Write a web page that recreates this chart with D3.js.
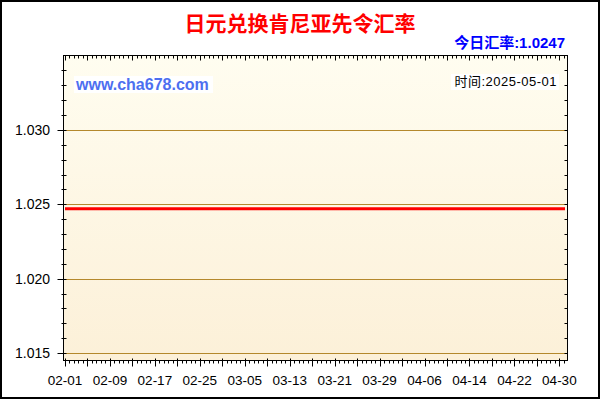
<!DOCTYPE html>
<html>
<head>
<meta charset="utf-8">
<script src="https://cdn.jsdelivr.net/npm/d3@7"></script>
<style>
  body { margin: 0; background: #fff; }
  svg { display: block; }
</style>
</head>
<body>
<div id="chart"></div>
<script>
// Chart values
const dates = ["2025-02-01", "2025-02-09", "2025-02-17", "2025-02-25", "2025-03-05", "2025-03-13",
               "2025-03-21", "2025-03-29", "2025-04-06", "2025-04-14", "2025-04-22", "2025-04-30", "2025-05-01"];
const rates = [1.0247, 1.0247, 1.0247, 1.0247, 1.0247, 1.0247,
               1.0247, 1.0247, 1.0247, 1.0247, 1.0247, 1.0247, 1.0247];
const xTickLabels = ["02-01", "02-09", "02-17", "02-25", "03-05", "03-13",
                     "03-21", "03-29", "04-06", "04-14", "04-22", "04-30"];
const yTickLabels = ["1.015", "1.020", "1.025", "1.030"];
const titleText = "日元兑换肯尼亚先令汇率";
const rateText = "今日汇率:1.0247";
const siteText = "www.cha678.com";
const timeText = "时间:2025-05-01";

const parseDate = d3.timeParse("%Y-%m-%d");
const data = dates.map((d, i) => ({date: parseDate(d), rate: rates[i]}));

// Plot frame
const frame = {left: 63.5, right: 567.5, top: 55.5, bottom: 360.5};
const font = "'Liberation Sans', Arial, 'Noto Sans CJK SC', sans-serif";

const svg = d3.select("#chart")
    .append("svg")
    .attr("width", 600)
    .attr("height", 400);

// Background gradient of the plot area
const grad = svg.append("defs").append("linearGradient")
    .attr("id", "bg")
    .attr("x1", 0).attr("y1", 0).attr("x2", 0).attr("y2", 1);
grad.append("stop").attr("offset", "0%").attr("stop-color", "#fffdf0");
grad.append("stop").attr("offset", "100%").attr("stop-color", "#fcf0d8");

svg.append("rect")
    .attr("x", frame.left).attr("y", frame.top)
    .attr("width", frame.right - frame.left)
    .attr("height", frame.bottom - frame.top)
    .attr("fill", "url(#bg)");

// Scales
const x = d3.scaleTime()
    .domain([parseDate("2025-02-01"), parseDate("2025-05-01")])
    .range([65, 565]);
const y = d3.scaleLinear()
    .domain([1.0145, 1.035])
    .range([frame.bottom, frame.top]);

// Horizontal grid lines at labelled values
svg.append("g")
    .selectAll("line")
    .data(yTickLabels)
    .enter().append("line")
    .attr("x1", frame.left + 2)
    .attr("x2", frame.right)
    .attr("y1", d => Math.round(y(+d)) + 0.5)
    .attr("y2", d => Math.round(y(+d)) + 0.5)
    .attr("stroke", "#b4882c")
    .attr("stroke-width", 1);

// Red rate line
const line = d3.line()
    .x(d => x(d.date))
    .y(d => y(d.rate));

svg.append("path")
    .datum(data)
    .attr("d", line)
    .attr("fill", "none")
    .attr("stroke", "#ff0000")
    .attr("stroke-width", 3);

// Frame
svg.append("rect")
    .attr("x", frame.left).attr("y", frame.top)
    .attr("width", frame.right - frame.left)
    .attr("height", frame.bottom - frame.top)
    .attr("fill", "none")
    .attr("stroke", "#000")
    .attr("stroke-width", 1);

// X ticks: major every 4 days, 5 subdivisions each
const day0 = parseDate("2025-02-01");
const dayMs = 24 * 60 * 60 * 1000;
const minorDays = d3.range(0, 89.01, 0.8);
const majorDays = d3.range(0, 89, 4);
const ticksG = svg.append("g").attr("stroke", "#000").attr("stroke-width", 1);

function xAt(days) {
    return Math.round(x(new Date(day0.getTime() + days * dayMs))) + 0.5;
}

minorDays.forEach(d => {
    const px = xAt(d);
    ticksG.append("line").attr("x1", px).attr("x2", px)
        .attr("y1", frame.bottom).attr("y2", frame.bottom + 3);
    ticksG.append("line").attr("x1", px).attr("x2", px)
        .attr("y1", frame.top).attr("y2", frame.top + 3);
});
majorDays.forEach(d => {
    const px = xAt(d);
    ticksG.append("line").attr("x1", px).attr("x2", px)
        .attr("y1", frame.bottom - 2).attr("y2", frame.bottom + 6);
    ticksG.append("line").attr("x1", px).attr("x2", px)
        .attr("y1", frame.top).attr("y2", frame.top + 5);
});

// Y ticks every 0.001
const yMinor = d3.range(1015, 1035).map(v => v / 1000);
yMinor.forEach(v => {
    const py = Math.round(y(v)) + 0.5;
    ticksG.append("line").attr("x1", frame.left - 2).attr("x2", frame.left + 3)
        .attr("y1", py).attr("y2", py);
    ticksG.append("line").attr("x1", frame.right - 3).attr("x2", frame.right)
        .attr("y1", py).attr("y2", py);
});
yTickLabels.forEach(v => {
    const py = Math.round(y(+v)) + 0.5;
    ticksG.append("line").attr("x1", frame.left - 6).attr("x2", frame.left)
        .attr("y1", py).attr("y2", py);
});

// Tick labels
svg.append("g")
    .selectAll("text")
    .data(xTickLabels)
    .enter().append("text")
    .attr("x", (d, i) => x(new Date(day0.getTime() + i * 8 * dayMs)))
    .attr("y", 385)
    .attr("text-anchor", "middle")
    .style("font-family", font)
    .style("font-size", "13.5px")
    .attr("fill", "#000")
    .text(d => d);

svg.append("g")
    .selectAll("text")
    .data(yTickLabels)
    .enter().append("text")
    .attr("x", 50)
    .attr("y", d => y(+d) + 5)
    .attr("text-anchor", "end")
    .style("font-family", font)
    .style("font-size", "14px")
    .attr("fill", "#000")
    .text(d => d);

// Title and notes
svg.append("text")
    .attr("x", 300)
    .attr("y", 31)
    .attr("text-anchor", "middle")
    .style("font-family", "'Noto Sans CJK SC', sans-serif")
    .style("font-size", "21px")
    .style("font-weight", "bold")
    .attr("fill", "#ff0000")
    .text(titleText);

svg.append("text")
    .attr("x", 565)
    .attr("y", 48)
    .attr("text-anchor", "end")
    .style("font-family", font)
    .style("font-size", "15px")
    .style("font-weight", "bold")
    .attr("fill", "#0000ff")
    .text(rateText);

svg.append("rect")
    .attr("x", 74).attr("y", 76).attr("width", 139).attr("height", 17)
    .attr("fill", "#ffffff");
svg.append("text")
    .attr("x", 76)
    .attr("y", 90)
    .style("font-family", font)
    .style("font-size", "16px")
    .style("font-weight", "bold")
    .attr("fill", "#4d6ff0")
    .text(siteText);

svg.append("rect")
    .attr("x", 451).attr("y", 74).attr("width", 108).attr("height", 16)
    .attr("fill", "#ffffff");
svg.append("text")
    .attr("x", 557)
    .attr("y", 86)
    .attr("text-anchor", "end")
    .style("font-family", font)
    .style("font-size", "13px")
    .style("letter-spacing", "0.5px")
    .attr("fill", "#000")
    .text(timeText);

// Outer border
svg.append("rect")
    .attr("x", 1).attr("y", 1).attr("width", 598).attr("height", 397)
    .attr("fill", "none")
    .attr("stroke", "#000")
    .attr("stroke-width", 2);
</script>
</body>
</html>
